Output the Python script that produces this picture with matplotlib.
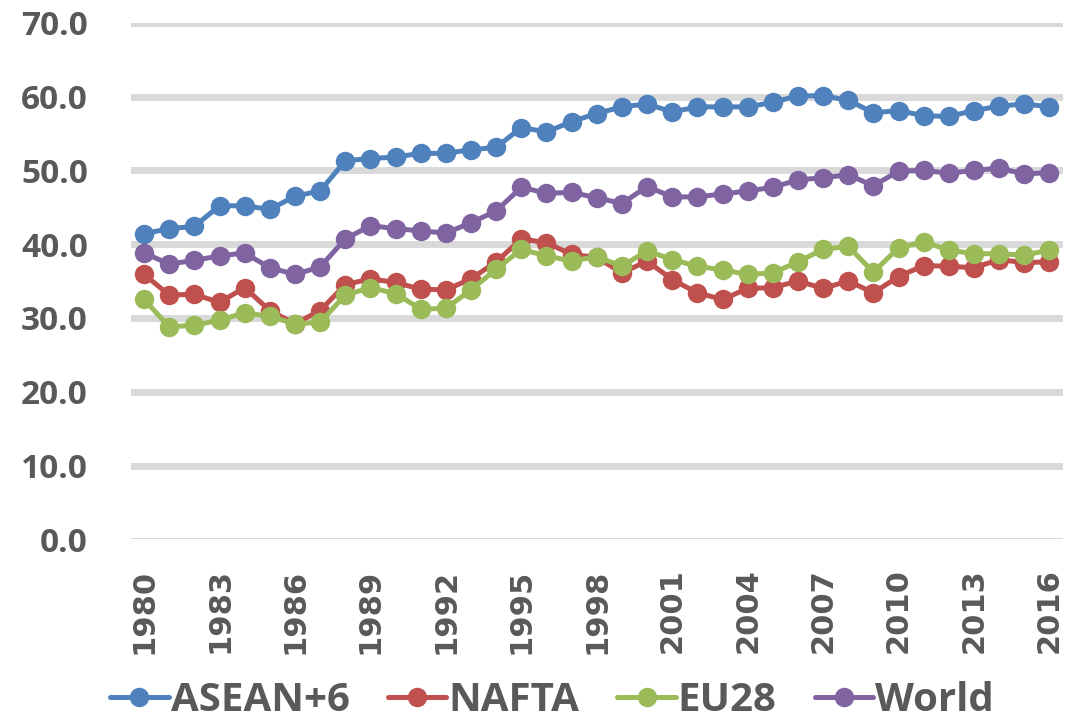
import numpy as np
import matplotlib.pyplot as plt
from matplotlib.ticker import FormatStrFormatter

# Years and regional shares (%)
years = list(range(1980, 2017))

asean6 = [41.4, 42.1, 42.4, 45.2, 45.2, 44.7, 46.5, 47.2, 51.3, 51.6,
          51.8, 52.3, 52.3, 52.8, 53.1, 55.8, 55.2, 56.6, 57.7, 58.6,
          59.0, 57.9, 58.6, 58.6, 58.6, 59.2, 60.1, 60.1, 59.5, 57.8,
          58.1, 57.4, 57.3, 58.1, 58.7, 59.0, 58.6]
nafta = [35.9, 33.1, 33.2, 32.1, 34.1, 31.0, 29.2, 31.0, 34.5, 35.3,
         34.8, 33.9, 33.8, 35.3, 37.6, 40.7, 40.2, 38.6, 38.2, 36.1,
         37.7, 35.2, 33.4, 32.5, 34.0, 34.1, 35.0, 34.0, 35.0, 33.4,
         35.6, 37.1, 37.0, 36.8, 37.9, 37.5, 37.6]
eu28 = [32.5, 28.8, 29.0, 29.7, 30.7, 30.2, 29.2, 29.4, 33.1, 34.1,
        33.3, 31.2, 31.3, 33.8, 36.6, 39.3, 38.4, 37.7, 38.3, 37.0,
        39.1, 37.9, 37.0, 36.5, 35.9, 36.1, 37.6, 39.3, 39.7, 36.2,
        39.5, 40.3, 39.2, 38.7, 38.7, 38.5, 39.2]
world = [38.8, 37.3, 37.8, 38.4, 38.8, 36.8, 35.9, 36.9, 40.7, 42.5,
         42.1, 41.8, 41.5, 42.9, 44.5, 47.7, 46.9, 47.0, 46.3, 45.5,
         47.8, 46.4, 46.4, 46.8, 47.2, 47.7, 48.7, 49.0, 49.4, 47.9,
         49.9, 50.0, 49.6, 50.0, 50.3, 49.5, 49.7]

series = [("ASEAN+6", asean6, "#4F81BD"),
          ("NAFTA", nafta, "#C0504D"),
          ("EU28", eu28, "#9BBB59"),
          ("World", world, "#8064A2")]

text_gray = "#595959"
grid_gray = "#D9D9D9"

fig = plt.figure(figsize=(10.87, 7.24), dpi=100)
ax = fig.add_axes([0.1205, 0.2551, 0.857, 0.7135])

for name, vals, col in series:
    ax.plot(years, vals, "-o", color=col, label=name, lw=3.6,
            markersize=14, markeredgewidth=0, solid_capstyle="round")

ax.set_xlim(1979.48, 2016.52)
ax.set_ylim(0, 70)

# Horizontal gridlines, the zero line drawn thinner
for y in range(10, 80, 10):
    ax.axhline(y, color=grid_gray, lw=5, zorder=0)
ax.axhline(0, color=grid_gray, lw=1.5, zorder=0)

for s in ax.spines.values():
    s.set_visible(False)

ax.set_yticks(np.arange(0, 80, 10))
ax.yaxis.set_major_formatter(FormatStrFormatter("%.1f"))
ax.set_xticks(years[::3])
ax.tick_params(length=0)
ax.tick_params(axis="y", pad=31)
ax.tick_params(axis="x", pad=21)

for lbl in ax.get_yticklabels():
    lbl.set_fontfamily("Open Sans")
    lbl.set_fontweight("bold")
    lbl.set_fontsize(24)
    lbl.set_color(text_gray)

for lbl in ax.get_xticklabels():
    lbl.set_fontfamily("DejaVu Sans")
    lbl.set_fontweight("bold")
    lbl.set_fontsize(22)
    lbl.set_color(text_gray)
    lbl.set_rotation(90)

leg = fig.legend(loc="center", bbox_to_anchor=(0.508, 0.033), ncol=4,
                 frameon=False, handlelength=1.45, handletextpad=0.05,
                 columnspacing=0.95, borderpad=0.1,
                 prop={"family": "Open Sans", "weight": "bold", "size": 29})
for t in leg.get_texts():
    t.set_color(text_gray)

fig.savefig("out.png", dpi=100)
